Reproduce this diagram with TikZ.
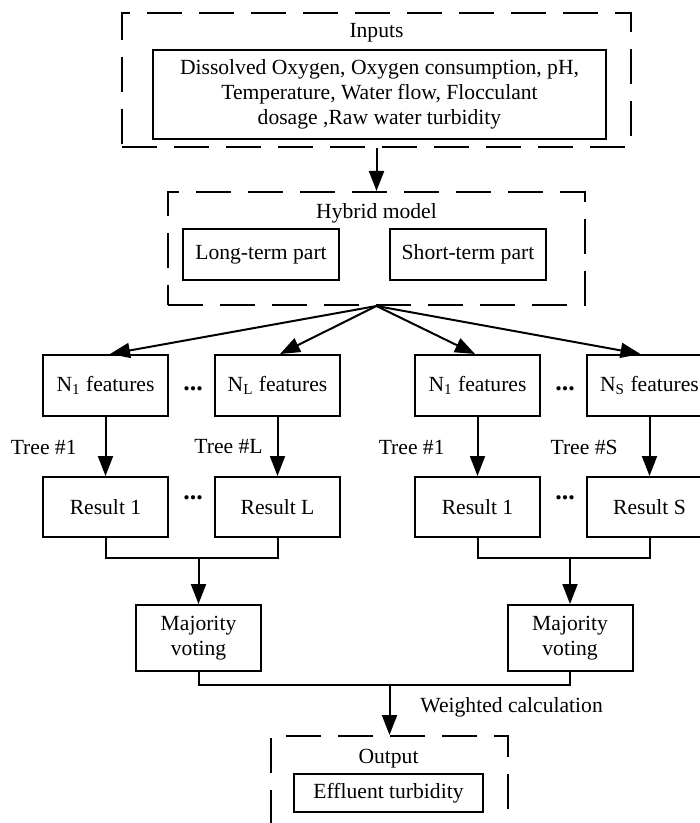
\documentclass[tikz,border=0pt]{standalone}
\usepackage{fontspec}
\setmainfont{Liberation Serif}
\usetikzlibrary{arrows.meta}
\begin{document}
\begin{tikzpicture}[x=0.5pt,y=-0.5pt,
  font=\fontsize{10.8pt}{12.5pt}\selectfont,
  box/.style={draw, line width=1pt, inner sep=0pt, align=center},
  dbox/.style={draw, line width=1pt, dash pattern=on 17.5pt off 8.5pt, inner sep=0pt},
  fbox/.style={box, minimum width=62.5pt, minimum height=30.5pt},
  rbox/.style={box, minimum width=62.5pt, minimum height=30pt},
  mbox/.style={box, minimum width=62.5pt, minimum height=33pt},
  arr/.style={line width=1pt, -{Triangle[length=10pt,width=7.5pt]}},
  ln/.style={line width=1pt},
  lbl/.style={inner sep=0pt},
  dots/.style={inner sep=0pt, font=\fontsize{13pt}{13pt}\selectfont\bfseries}]
\useasboundingbox (0,0) rectangle (700,823);
\clip (0,0) rectangle (700,823);

% Inputs
\node[dbox, minimum width=254.5pt, minimum height=67pt] (inbox) at (376.5,80) {};
\node[lbl] (inlbl) at (376.5,33) {Inputs};
\node[box, minimum width=226.5pt, minimum height=44.5pt] (inp) at (379.5,94.5)
  {Dissolved Oxygen, Oxygen consumption, pH,\\Temperature, Water flow, Flocculant\\dosage ,Raw water turbidity};

% Hybrid model
\node[dbox, minimum width=208.5pt, minimum height=56.5pt] (hyb) at (376.5,248.5) {};
\node[lbl] (hyblbl) at (376.5,213) {Hybrid model};
\node[box, minimum width=78pt, minimum height=25.5pt] (long) at (261,254.5) {Long-term part};
\node[box, minimum width=78pt, minimum height=25.5pt] (short) at (468,254.5) {Short-term part};
\draw[arr] (inbox.south) -- (hyb.north);
\coordinate (F) at (hyb.south);

% Feature boxes
\node[fbox] (f1) at (105.5,385.5) {N\textsubscript{1} features};
\node[fbox] (fL) at (277.5,385.5) {N\textsubscript{L} features};
\node[fbox] (g1) at (477.5,385.5) {N\textsubscript{1} features};
\node[fbox] (gS) at (649.5,385.5) {N\textsubscript{S} features};
\node[dots] (d1) at (193,389) {...};
\node[dots] (d2) at (565,389) {...};

\draw[arr] (F) -- ([xshift=2.25pt]f1.north);
\draw[arr] (F) -- ([xshift=1.25pt]fL.north);
\draw[arr] (F) -- ([xshift=-1.25pt]g1.north);
\draw[arr] (F) -- ([xshift=-4.5pt]gS.north);

% Result boxes
\node[rbox] (r1) at (105.5,507) {Result 1};
\node[rbox] (rL) at (277.5,507) {Result L};
\node[rbox] (s1) at (477.5,507) {Result 1};
\node[rbox] (sS) at (649.5,507) {Result S};
\node[dots] (d3) at (193,498) {...};
\node[dots] (d4) at (565,498) {...};

\draw[arr] (f1.south) -- (r1.north);
\draw[arr] (fL.south) -- (rL.north);
\draw[arr] (g1.south) -- (s1.north);
\draw[arr] (gS.south) -- (sS.north);

\node[lbl, anchor=east] (t1) at (77,447) {Tree \#1};
\node[lbl, anchor=east] (tL) at (263,447) {Tree \#L};
\node[lbl, anchor=east] (t2) at (445,447) {Tree \#1};
\node[lbl, anchor=east] (tS) at (618,447) {Tree \#S};

% Majority voting
\node[mbox] (mL) at (198.5,638) {Majority\\voting};
\node[mbox] (mS) at (570,638) {Majority\\voting};

\coordinate (J1) at (198.5,557.5);
\coordinate (J2) at (570,557.5);
\draw[ln] (r1.south) |- (J1) -| (rL.south);
\draw[ln] (s1.south) |- (J2) -| (sS.south);
\draw[arr] (J1) -- (mL.north);
\draw[arr] (J2) -- (mS.north);

% Output
\node[dbox, minimum width=118.5pt, minimum height=48pt] (outbox) at (389.5,784) {};
\node[lbl] (outlbl) at (388.5,759) {Output};
\node[box, minimum width=94.5pt, minimum height=19pt] (eff) at (388.5,793) {Effluent turbidity};

\coordinate (J3) at (389.5,685);
\draw[ln] (mL.south) |- (J3) -| (mS.south);
\draw[arr] (J3) -- (outbox.north);
\node[lbl, anchor=west] (wc) at (420,707) {Weighted calculation};
\end{tikzpicture}
\end{document}
